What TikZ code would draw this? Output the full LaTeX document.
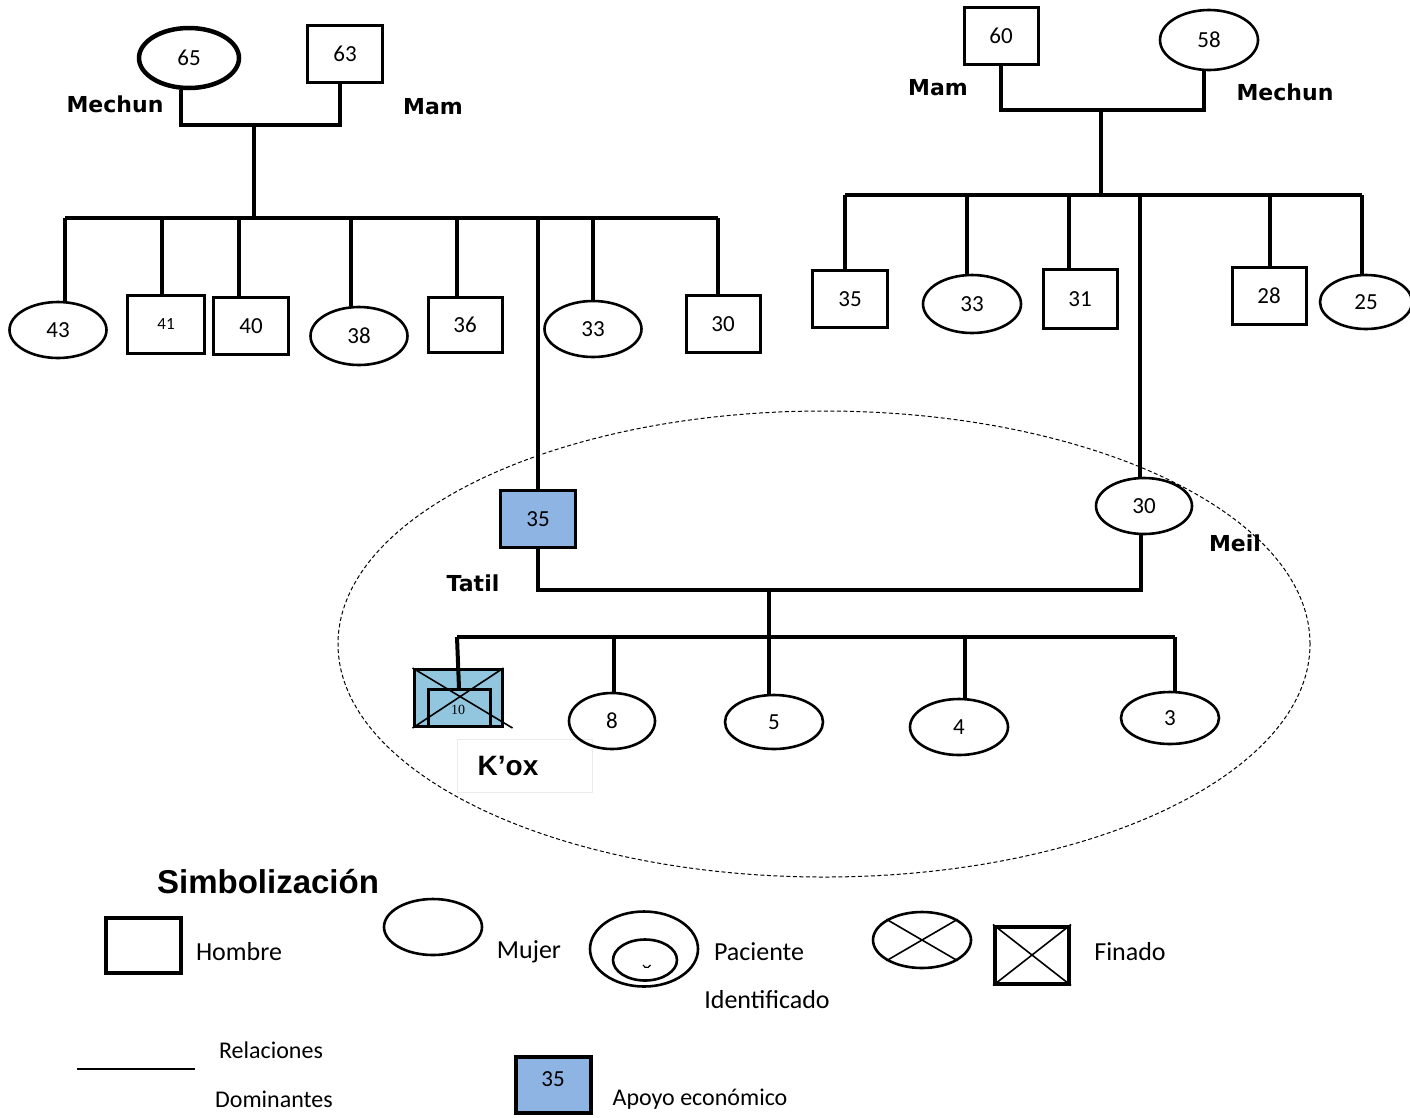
\documentclass[tikz,border=0pt]{standalone}
\usepackage{fontspec}
\setmainfont{Carlito}
\newfontfamily\lblfont{DejaVu Sans}
\newfontfamily\headfont{Liberation Sans}
\newfontfamily\smallserif{Liberation Serif}
\usepackage{xcolor}
\usetikzlibrary{shapes.geometric, positioning}

\definecolor{apoyo}{HTML}{8EB4E3}
\definecolor{koxfill}{HTML}{92C5DE}

\tikzset{
  hombre/.style={draw, rectangle, line width=3pt, minimum width=75pt, minimum height=57pt,
    inner sep=0pt, font=\fontsize{23}{25}\selectfont},
  mujer/.style={draw, ellipse, line width=2.6pt, minimum width=97pt, minimum height=56pt,
    inner sep=0pt, font=\fontsize{23}{25}\selectfont},
  rel/.style={line width=4pt},
  lbl/.style={font=\lblfont\bfseries\fontsize{22}{26}\selectfont},
  leyenda/.style={font=\fontsize{26}{30}\selectfont},
  cruz/.style={line width=1.6pt}
}

\begin{document}
\begin{tikzpicture}[x=1pt,y=-1pt]
  \useasboundingbox (0,0) rectangle (1410,1117);

  % familia del padre
  \node[mujer, line width=4.5pt, minimum width=100pt, minimum height=60pt] (abL) at (189,58) {65};
  \node[hombre] (apL) at (345,54) {63};
  \node[lbl] at (115,104) {Mechun};
  \node[lbl] at (433,107) {Mam};

  \coordinate (uL) at (254,125);
  \coordinate (sbL) at (254,218);
  \coordinate (sbLw) at (65,218);
  \coordinate (sbLe) at (718,218);
  \draw[rel] ([xshift=-8pt]abL.south) |- (uL) -| ([xshift=-5pt]apL.south);
  \draw[rel] (uL) -- (sbL);
  \draw[rel] (sbLw) -- (sbLe);

  \node[mujer] (l43) at (58,330) {43};
  \node[hombre, font=\fontsize{17}{19}\selectfont, minimum width=77pt, minimum height=58pt] (l41) at (166,324) {41};
  \node[hombre] (l40) at (251,326) {40};
  \node[mujer, minimum height=58pt] (l38) at (359,336) {38};
  \node[hombre, minimum width=74pt, minimum height=55pt] (l36) at (465,325) {36};
  \node[mujer] (l33) at (593,329) {33};
  \node[hombre, minimum width=74pt] (l30) at (723,324) {30};

  \foreach \c/\dx in {l43/7, l41/-4, l40/-12, l38/-8, l36/-8, l33/0, l30/-5}
    \draw[rel] ([xshift=\dx pt]\c.north |- sbL) -- ([xshift=\dx pt]\c.north);

  % familia de la madre
  \node[hombre, minimum width=74pt] (apR) at (1001,36) {60};
  \node[mujer, minimum width=98pt, minimum height=60pt] (abR) at (1209,40) {58};
  \node[lbl] at (938,88) {Mam};
  \node[lbl] at (1285,92) {Mechun};

  \coordinate (uR) at (1101,110);
  \coordinate (sbR) at (1101,195);
  \coordinate (sbRw) at (845,195);
  \coordinate (sbRe) at (1362,195);
  \draw[rel] (apR.south) |- (uR) -| ([xshift=-5pt]abR.south);
  \draw[rel] (uR) -- (sbR);
  \draw[rel] (sbRw) -- (sbRe);

  \node[hombre] (r35) at (850,299) {35};
  \node[mujer, minimum width=98pt, minimum height=58pt] (r33) at (972,304) {33};
  \node[hombre, minimum width=74pt, minimum height=59pt] (r31) at (1080,299) {31};
  \node[hombre, minimum width=74pt] (r28) at (1269,296) {28};
  \node[mujer, minimum width=92pt, minimum height=54pt] (r25) at (1366,302) {25};

  \foreach \c/\dx in {r35/-5, r33/-5, r31/-11, r28/1, r25/-4}
    \draw[rel] ([xshift=\dx pt]\c.north |- sbR) -- ([xshift=\dx pt]\c.north);

  % hogar
  \node[draw, ellipse, dashed, line width=1pt, dash pattern=on 4pt off 2.5pt,
    minimum width=972pt, minimum height=466pt] (hogar) at (824,644) {};

  \node[hombre, fill=apoyo, minimum width=75pt] (tatil) at (538,519) {35};
  \node[mujer, minimum width=96pt, minimum height=56pt] (meil) at (1144,506) {30};
  \node[lbl] at (473,583) {Tatil};
  \node[lbl] at (1235,543) {Meil};

  \draw[rel] (tatil.north |- sbL) -- (tatil.north);
  \draw[rel] ([xshift=-4pt]meil.north |- sbR) -- ([xshift=-4pt]meil.north);

  \coordinate (uN) at (769,590);
  \coordinate (sbN) at (769,637);
  \coordinate (sbNw) at (457,637);
  \coordinate (sbNe) at (1175,637);
  \draw[rel] (tatil.south) |- (uN) -| ([xshift=-3pt]meil.south);
  \draw[rel] (uN) -- (sbN);
  \draw[rel] (sbNw) -- (sbNe);

  % hijos
  \node[hombre, fill=koxfill, minimum width=88pt, minimum height=57pt] (kox) at (458,698) {};
  \node[draw, line width=3pt, minimum width=62pt, minimum height=37pt, inner sep=0pt] (koxin) at (459,708) {};
  \node[font=\smallserif\fontsize{14}{16}\selectfont] at (458,710) {10};
  \draw[cruz] (kox.north west) -- ([xshift=9pt]kox.south east);
  \draw[cruz] (kox.south west) -- (kox.north east);
  \draw[rel] (sbNw) -- (koxin.north);

  \node[draw=black!8, line width=1pt, minimum width=135pt, minimum height=53pt] (koxbox) at (525,766) {};
  \node[font=\headfont\bfseries\fontsize{28}{32}\selectfont] (koxlbl) at (508,766) {K’ox};

  \node[mujer, minimum width=86pt] (n8) at (612,721) {8};
  \node[mujer, minimum width=98pt, minimum height=54pt] (n5) at (774,722) {5};
  \node[mujer, minimum width=98pt] (n4) at (959,727) {4};
  \node[mujer, minimum width=98pt, minimum height=52pt] (n3) at (1170,718) {3};

  \foreach \c/\dx in {n8/2, n5/-5, n4/6, n3/5}
    \draw[rel] ([xshift=\dx pt]\c.north |- sbN) -- ([xshift=\dx pt]\c.north);

  % simbolizacion
  \node[font=\headfont\bfseries\fontsize{33}{36}\selectfont] (simb) at (268,882) {Simbolización};

  \node[hombre, line width=4pt, minimum width=75pt, minimum height=55pt] (sH) at (143,945) {};
  \node[leyenda] at (239,952) {Hombre};
  \node[mujer, minimum width=98pt, minimum height=56pt] (sM) at (433,927) {};
  \node[leyenda] at (529,952) {Mujer};

  \node[mujer, minimum width=108pt, minimum height=75pt] (sP) at (644,949) {};
  \node[mujer, minimum width=64pt, minimum height=41pt] (sPin) at (645,960) {};
  \draw[line width=1.2pt] (643,965) arc[start angle=200, end angle=340, radius=4pt];
  \node[leyenda] at (759,952) {Paciente};
  \node[leyenda] at (767,1000) {Identificado};

  \node[mujer, minimum width=98pt, minimum height=56pt] (sFm) at (922,940) {};
  \draw[cruz] (sFm.north west) -- (sFm.south east);
  \draw[cruz] (sFm.south west) -- (sFm.north east);
  \node[hombre, line width=4pt, minimum width=74pt, minimum height=57pt] (sFh) at (1032,955) {};
  \draw[cruz] (sFh.north west) -- (sFh.south east);
  \draw[cruz] (sFh.south west) -- (sFh.north east);
  \node[leyenda] at (1130,952) {Finado};

  \coordinate (relA) at (77,1069);
  \coordinate (relB) at (195,1069);
  \draw[line width=2.5pt] (relA) -- (relB);
  \node[leyenda, font=\fontsize{24}{28}\selectfont] at (271,1050) {Relaciones};
  \node[leyenda, font=\fontsize{24}{28}\selectfont] at (274,1099) {Dominantes};

  \node[hombre, line width=4pt, fill=apoyo, minimum width=75pt, minimum height=56pt,
    text depth=12pt] (sA) at (553,1085) {35};
  \node[leyenda, font=\fontsize{24}{28}\selectfont] at (700,1099) {Apoyo económico};
\end{tikzpicture}
\end{document}
